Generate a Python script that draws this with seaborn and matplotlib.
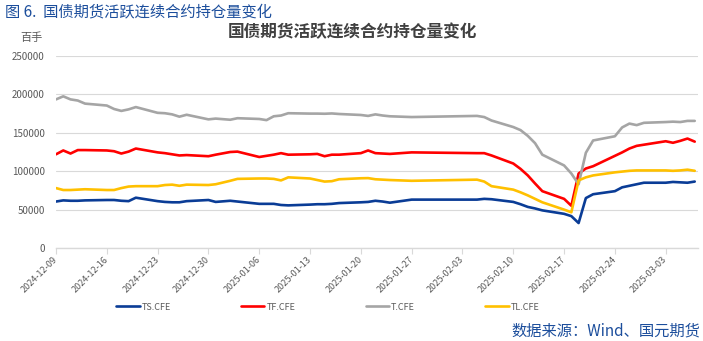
import matplotlib
matplotlib.use("Agg")
import matplotlib.pyplot as plt
import matplotlib.dates as mdates
import numpy as np
import pandas as pd
import seaborn as sns

# Trading days (Spring Festival closure 2025-01-28 .. 2025-02-04)
dates = [
    "2024-12-09", "2024-12-10", "2024-12-11", "2024-12-12", "2024-12-13",
    "2024-12-16", "2024-12-17", "2024-12-18", "2024-12-19", "2024-12-20",
    "2024-12-23", "2024-12-24", "2024-12-25", "2024-12-26", "2024-12-27",
    "2024-12-30", "2024-12-31",
    "2025-01-02", "2025-01-03",
    "2025-01-06", "2025-01-07", "2025-01-08", "2025-01-09", "2025-01-10",
    "2025-01-13", "2025-01-14", "2025-01-15", "2025-01-16", "2025-01-17",
    "2025-01-20", "2025-01-21", "2025-01-22", "2025-01-23", "2025-01-24",
    "2025-01-27",
    "2025-02-05", "2025-02-06", "2025-02-07",
    "2025-02-10", "2025-02-11", "2025-02-12", "2025-02-13", "2025-02-14",
    "2025-02-17", "2025-02-18", "2025-02-19", "2025-02-20", "2025-02-21",
    "2025-02-24", "2025-02-25", "2025-02-26", "2025-02-27", "2025-02-28",
    "2025-03-03", "2025-03-04", "2025-03-05", "2025-03-06", "2025-03-07",
]

# Open interest of the active continuous contracts (unit: 100 lots)
ts_cfe = [
    60500, 62000, 61500, 61500, 62000,
    62500, 62500, 61500, 61000, 65500,
    61000, 60000, 59500, 59500, 61000,
    62500, 60000,
    61500, 60500,
    57500, 57500, 57500, 56000, 55500,
    56500, 57000, 57000, 57500, 58500,
    59500, 60000, 61500, 60500, 59000,
    63000,
    63000, 64000, 63500,
    60000, 57000, 53500, 51500, 49000,
    44500, 41500, 32500, 65000, 70000,
    74000, 79000, 81000, 83000, 85000,
    85000, 86000, 85500, 85000, 86500,
]
tf_cfe = [
    122000, 127000, 123000, 127500, 127500,
    127000, 126000, 123000, 125500, 129500,
    124500, 123500, 122000, 120500, 121000,
    119500, 121500,
    125000, 125500,
    118500, 120000, 121500, 123500, 121500,
    122000, 122500, 119500, 121500, 121500,
    123500, 127000, 123500, 123000, 122500,
    124500,
    123500, 123500, 120500,
    110000, 103000, 94500, 84000, 74000,
    64000, 55000, 97000, 103500, 106500,
    120000, 124500, 129500, 133000, 134500,
    139000, 137000, 139500, 142500, 138500,
]
t_cfe = [
    193500, 197500, 193500, 192000, 188000,
    185500, 181000, 178500, 180500, 183500,
    176000, 175500, 174000, 171000, 173500,
    167500, 168500,
    167000, 169000,
    168000, 166500, 171500, 172500, 175500,
    175000, 175000, 174800, 175200, 174500,
    173200, 172000, 174000, 172500, 171500,
    170500,
    172000, 170500, 166000,
    157500, 153500, 146000, 136500, 121500,
    107500, 97000, 83000, 124000, 140000,
    145500, 157000, 162000, 160000, 163000,
    164000, 164500, 164000, 165500, 165500,
]
tl_cfe = [
    78000, 75500, 75500, 76000, 76500,
    75500, 75500, 78000, 80000, 80500,
    80500, 82000, 82500, 81000, 82500,
    82000, 83000,
    87500, 90000,
    90500, 90500, 90000, 88000, 92000,
    90500, 88500, 86500, 87000, 89500,
    90800, 91000, 89500, 89000, 88500,
    87500,
    89000, 86500, 80500,
    76000, 72500, 68500, 64000, 59500,
    50000, 46500, 88000, 92000, 94500,
    98500, 99500, 100500, 101000, 101000,
    101000, 100500, 101000, 102000, 100500,
]

contracts = ["TS.CFE", "TF.CFE", "T.CFE", "TL.CFE"]
colors = {"TS.CFE": "#0a3c96", "TF.CFE": "#ff0000",
          "T.CFE": "#a5a5a5", "TL.CFE": "#ffc000"}

tick_dates = ["2024-12-09", "2024-12-16", "2024-12-23", "2024-12-30",
              "2025-01-06", "2025-01-13", "2025-01-20", "2025-01-27",
              "2025-02-03", "2025-02-10", "2025-02-17", "2025-02-24",
              "2025-03-03"]
y_ticks = [0, 50000, 100000, 150000, 200000, 250000]

df = pd.DataFrame({
    "date": pd.to_datetime(dates * 4),
    "contract": np.repeat(contracts, len(dates)),
    "value": ts_cfe + tf_cfe + t_cfe + tl_cfe,
})

sns.set_style("white")
plt.rcParams["font.family"] = ["Noto Sans CJK SC", "DejaVu Sans"]

W, H = 703, 341
fig = plt.figure(figsize=(W / 100, H / 100), dpi=100)
ax = fig.add_axes([56 / W, 1 - 248 / H, (698 - 56) / W, (248 - 56) / H])

sns.lineplot(data=df, x="date", y="value", hue="contract",
             hue_order=contracts, palette=colors, linewidth=1.9,
             ax=ax, legend=True)

grey_txt = "#595959"
x0 = pd.Timestamp("2024-12-09")
ax.set_xlim(x0, x0 + pd.Timedelta(days=88.45))
ax.set_ylim(0, 250000)
ax.set_yticks(y_ticks)
ax.set_yticklabels([str(v) for v in y_ticks], fontsize=7, color=grey_txt)
ax.set_xticks(pd.to_datetime(tick_dates))
ax.xaxis.set_major_formatter(mdates.DateFormatter("%Y-%m-%d"))
for lab in ax.get_xticklabels():
    lab.set_rotation(45)
    lab.set_ha("right")
    lab.set_va("center")
    lab.set_rotation_mode("anchor")
    lab.set_fontsize(6.5)
    lab.set_color(grey_txt)

ax.set_xlabel("")
ax.set_ylabel("")
ax.grid(axis="y", color="#d9d9d9", linewidth=0.8)
ax.grid(axis="x", visible=False)
for side in ("top", "right", "left"):
    ax.spines[side].set_visible(False)
ax.spines["bottom"].set_color("#d9d9d9")
ax.spines["bottom"].set_linewidth(1.0)
ax.tick_params(axis="x", which="major", direction="out", length=4,
               width=0.8, color="#d9d9d9", pad=3, bottom=True)
ax.tick_params(axis="y", length=0, pad=8)

handles, labels = ax.get_legend_handles_labels()
ax.legend(handles, labels, loc="center", ncol=4, frameon=False,
          bbox_to_anchor=(0.466, 1 - 307 / H), bbox_transform=fig.transFigure,
          fontsize=6.5, handlelength=2.6, handletextpad=0.2,
          columnspacing=7.8, labelcolor=grey_txt)

blue_txt = "#1c4e9c"
fig.text(5 / W, 1 - 12 / H, "图 6.  国债期货活跃连续合约持仓量变化",
         fontsize=11, color=blue_txt, ha="left", va="center")
fig.text(352 / W, 1 - 32 / H, "国债期货活跃连续合约持仓量变化",
         fontsize=12, fontweight="bold", color="#404040",
         ha="center", va="center")
fig.text(20 / W, 1 - 38 / H, "百手", fontsize=8, color=grey_txt,
         ha="left", va="center")
fig.text(700 / W, 1 - 331 / H, "数据来源：Wind、国元期货",
         fontsize=11, color=blue_txt, ha="right", va="center")

fig.savefig("out.png", dpi=100, facecolor="white")
